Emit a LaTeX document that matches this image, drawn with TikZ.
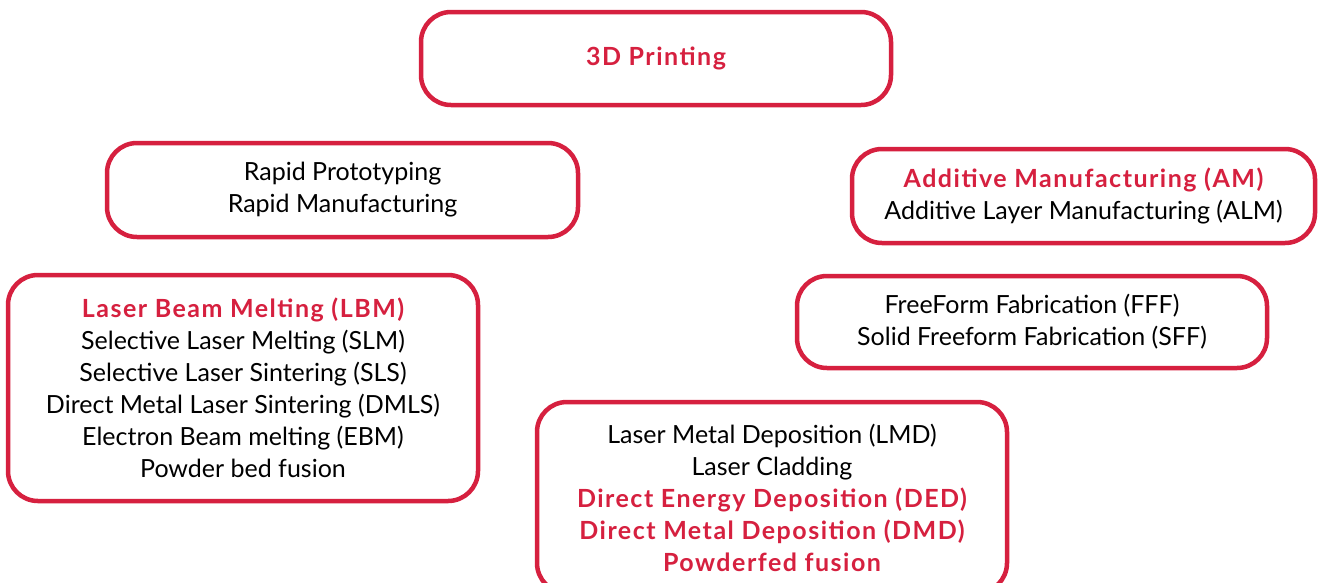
\documentclass[tikz,border=0pt]{standalone}
\usepackage{fontspec}
\setmainfont{Lato}[BoldFeatures={LetterSpace=6}]
\usepackage{xcolor}
\usepackage{tikz}
\usetikzlibrary{positioning}
\definecolor{mainc}{HTML}{D6203F}
\tikzset{
  box/.style={draw=mainc,line width=4.5pt,rounded corners=30pt,fill=white,align=center,
    inner sep=0pt,font=\fontsize{25}{32}\selectfont}
}
\newcommand{\hi}[1]{\textcolor{mainc}{\bfseries #1}}

\begin{document}
\begin{tikzpicture}[x=1pt,y=-1pt]
\useasboundingbox (0,0) rectangle (1320,582);
\clip (0,0) rectangle (1320,582);
% top level
\node[box,minimum width=470pt,minimum height=93pt] (top) at (656,58.5) {\hi{3D Printing}};
% second row
\node[box,minimum width=471pt,minimum height=94pt] (rapid) at (342.5,190)
  {Rapid Prototyping\\Rapid Manufacturing};
\node[box,minimum width=463pt,minimum height=94pt] (am) at (1083.5,196)
  {\hi{Additive Manufacturing (AM)}\\Additive Layer Manufacturing (ALM)};
% third row
\node[box,minimum width=470pt,minimum height=226pt] (lbm) at (243,388)
  {\hi{Laser Beam Melting (LBM)}\\Selective Laser Melting (SLM)\\Selective Laser Sintering (SLS)\\
   Direct Metal Laser Sintering (DMLS)\\Electron Beam melting (EBM)\\Powder bed fusion};
\node[box,minimum width=470pt,minimum height=92pt] (fff) at (1032,322)
  {FreeForm Fabrication (FFF)\\Solid Freeform Fabrication (SFF)};
% bottom, runs off the page
\node[box,minimum width=470pt,minimum height=191pt] (lmd) at (772,497.5)
  {Laser Metal Deposition (LMD)\\Laser Cladding\\\hi{Direct Energy Deposition (DED)}\\
   \hi{Direct Metal Deposition (DMD)}\\\hi{Powderfed fusion}};
\end{tikzpicture}
\end{document}
